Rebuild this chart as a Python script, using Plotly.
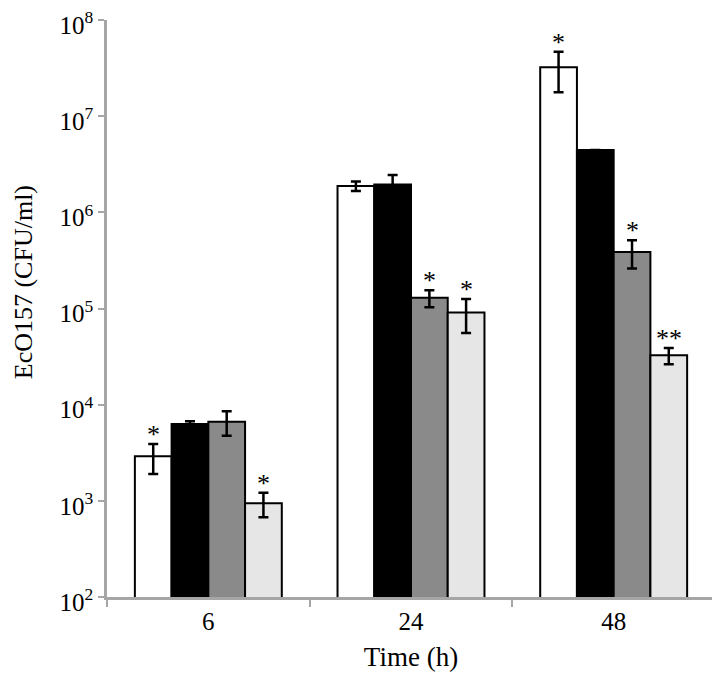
import math
import plotly.graph_objects as go

times = ["6", "24", "48"]
series_names = ["S1", "S2", "S3", "S4"]
values = [
    [2900, 1.88e6, 3.22e7],
    [6280, 1.95e6, 4.46e6],
    [6640, 1.29e5, 3.86e5],
    [943, 9.06e4, 3.26e4],
]
errors = [
    [1000, 0.21e6, 1.45e7],
    [450, 0.5e6, 0],
    [1900, 0.26e5, 1.25e5],
    [270, 3.5e4, 0.63e4],
]
stars = [
    ["*", "", "*"],
    ["", "", ""],
    ["", "*", "*"],
    ["*", "*", "**"],
]
fills = ["#ffffff", "#000000", "#8a8a8a", "#e6e6e6"]
ytick_vals = [1e2, 1e3, 1e4, 1e5, 1e6, 1e7, 1e8]
ytick_text = ["10<sup>%d</sup>" % k for k in range(2, 9)]
y_title = "EcO157 (CFU/ml)"
x_title = "Time (h)"

FONT = "Liberation Serif"
bargap = 0.275
AX = "#a6a6a6"

fig = go.Figure()
for i in range(4):
    fig.add_trace(go.Bar(
        x=times, y=values[i], name=series_names[i],
        marker=dict(color=fills[i], line=dict(color="black", width=2)),
        error_y=dict(type="data", array=errors[i], visible=True,
                     color="black", thickness=2.5, width=5),
        showlegend=False,
    ))

w = (1 - bargap) / 4
for i in range(4):
    for j in range(3):
        if stars[i][j]:
            top = values[i][j] + errors[i][j]
            fig.add_annotation(
                x=j + (i - 1.5) * w, y=math.log10(top), xref="x", yref="y",
                text=stars[i][j], showarrow=False, yanchor="bottom", yshift=-7,
                font=dict(family=FONT, size=26, color="black"),
            )

fig.add_annotation(
    x=-0.137, y=0.545, xref="paper", yref="paper", text=y_title,
    textangle=-90, showarrow=False, xanchor="center", yanchor="middle",
    font=dict(family=FONT, size=26, color="black"),
)

fig.update_layout(
    width=712, height=676,
    margin=dict(l=99, r=5, t=12, b=87, autoexpand=False),
    plot_bgcolor="white", paper_bgcolor="white",
    barmode="group", bargap=bargap, bargroupgap=0,
    font=dict(family=FONT, size=24, color="black"),
)
fig.update_xaxes(
    type="category", tickson="boundaries", ticks="outside", ticklen=7,
    tickcolor=AX, tickwidth=2, automargin=False,
    showline=True, linecolor=AX, linewidth=2.5,
    tickfont=dict(family=FONT, size=25), showgrid=False,
    title=dict(text=x_title, font=dict(family=FONT, size=27), standoff=14),
)
fig.update_yaxes(
    type="log", range=[2, 8], tickvals=ytick_vals, ticktext=ytick_text,
    ticks="outside", ticklen=6, tickcolor=AX, tickwidth=2, automargin=False,
    showline=True, linecolor=AX, linewidth=2.5, showgrid=False,
    tickfont=dict(family=FONT, size=25), zeroline=False,
    ticklabeloverflow="allow", ticklabelshift=5,
)

fig.write_html("out.html")
